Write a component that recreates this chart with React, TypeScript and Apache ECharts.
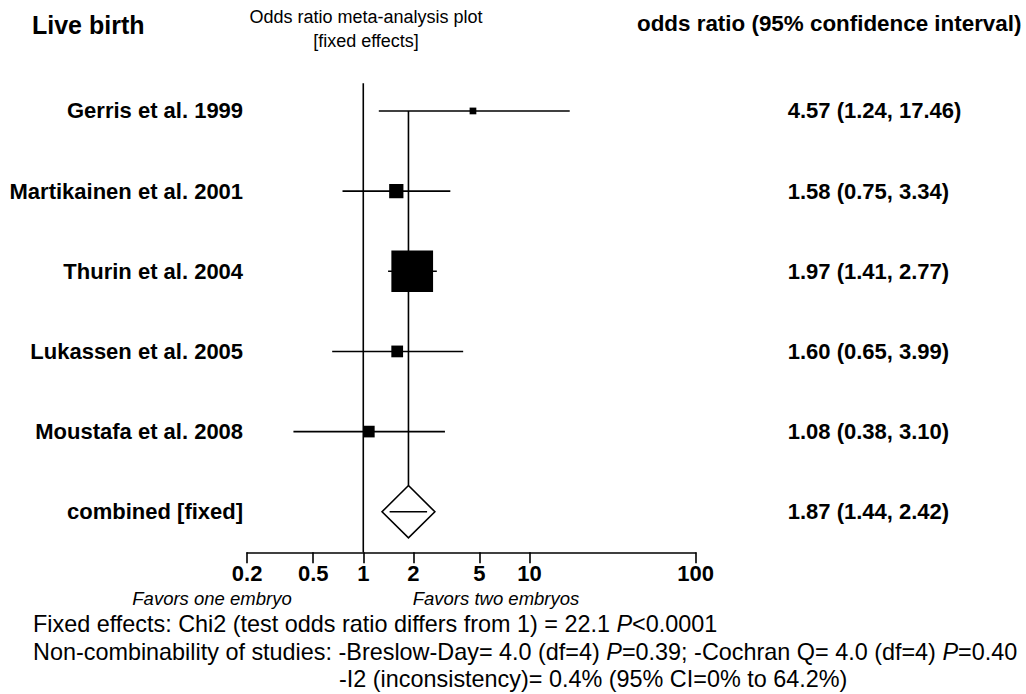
import React, { useEffect, useRef } from "react";
import * as echarts from "echarts";

const studies = [
  "Gerris et al. 1999",
  "Martikainen et al. 2001",
  "Thurin et al. 2004",
  "Lukassen et al. 2005",
  "Moustafa et al. 2008",
];
const oddsRatio = [4.57, 1.58, 1.97, 1.6, 1.08];
const ciLower = [1.24, 0.75, 1.41, 0.65, 0.38];
const ciUpper = [17.46, 3.34, 2.77, 3.99, 3.1];
const studyWeight = [2.0, 9.0, 76.9, 6.1, 6.0];

const combinedLabel = "combined [fixed]";
const combinedOR = 1.87;
const combinedLower = 1.44;
const combinedUpper = 2.42;

const tickValues = [0.2, 0.5, 1, 2, 5, 10, 100];
const axisMin = 0.2;
const axisMax = 100;

const titleLeft = "Live birth";
const titleCenter = ["Odds ratio meta-analysis plot", "[fixed effects]"];
const titleRight = "odds ratio (95% confidence interval)";
const favorsLeft = "Favors one embryo";
const favorsRight = "Favors two embryos";
const footnote1 = "Fixed effects: Chi2 (test odds ratio differs from 1) = 22.1 {i|P}<0.0001";
const footnote2 =
  "Non-combinability of studies: -Breslow-Day= 4.0 (df=4) {i|P}=0.39; -Cochran Q= 4.0 (df=4) {i|P}=0.40";
const footnote3 = "-I2 (inconsistency)= 0.4% (95% CI=0% to 64.2%)";

const FONT = "'Liberation Sans', Arial, sans-serif";
const lg = (v: number) => Math.log10(v);
const fmt = (v: number) => v.toFixed(2);

const rowLabels = [...studies, combinedLabel];
const rowValues = [
  ...oddsRatio.map((o, i) => `${fmt(o)} (${fmt(ciLower[i])}, ${fmt(ciUpper[i])})`),
  `${fmt(combinedOR)} (${fmt(combinedLower)}, ${fmt(combinedUpper)})`,
];
const rowIdx = rowLabels.map((_, i) => i);

const yMin = -0.345;
const yMax = 5.506;
const LW = 1.6;

export default function App() {
  const ref = useRef<HTMLDivElement>(null);
  useEffect(() => {
    if (!ref.current) return;
    const chart = echarts.init(ref.current, undefined, { renderer: "svg" });

    const yAxisBase = {
      type: "value",
      inverse: true,
      min: yMin,
      max: yMax,
      axisLine: { show: false },
      axisTick: { show: false },
      splitLine: { show: false },
    };

    const footStyle = (text: string) => ({
      text,
      font: `23.4px ${FONT}`,
      fill: "#000",
      verticalAlign: "middle",
      rich: { i: { fontStyle: "italic", fontSize: 23.4, fontFamily: FONT } },
    });

    const option: any = {
      animation: false,
      backgroundColor: "#ffffff",
      grid: { left: 247.1, top: 83.3, width: 448.6, height: 469 },
      xAxis: {
        type: "value",
        min: lg(axisMin),
        max: lg(axisMax),
        axisLine: { show: true, onZero: false, lineStyle: { color: "#000", width: LW } },
        axisTick: {
          show: true,
          inside: false,
          length: 11,
          customValues: tickValues.map(lg),
          lineStyle: { color: "#000", width: LW },
        },
        splitLine: { show: false },
        axisLabel: {
          customValues: tickValues.map(lg),
          formatter: (v: number) => {
            let best = tickValues[0];
            tickValues.forEach((t) => {
              if (Math.abs(lg(t) - v) < Math.abs(lg(best) - v)) best = t;
            });
            return String(best);
          },
          color: "#000",
          fontFamily: FONT,
          fontWeight: "bold",
          fontSize: 22,
          margin: 10,
        },
      },
      yAxis: [
        {
          ...yAxisBase,
          position: "left",
          axisLabel: {
            customValues: rowIdx,
            formatter: (v: number) => rowLabels[Math.round(v)] ?? "",
            color: "#000",
            fontFamily: FONT,
            fontWeight: "bold",
            fontSize: 22,
            margin: 4,
          },
        },
        {
          ...yAxisBase,
          position: "right",
          axisLabel: {
            customValues: rowIdx,
            formatter: (v: number) => rowValues[Math.round(v)] ?? "",
            color: "#000",
            fontFamily: FONT,
            fontWeight: "bold",
            fontSize: 22,
            margin: 92,
            align: "left",
          },
        },
      ],
      series: [
        {
          type: "line",
          data: [
            [lg(1), yMin],
            [lg(1), yMax],
          ],
          symbol: "none",
          lineStyle: { color: "#000", width: LW },
          silent: true,
        },
        {
          type: "custom",
          data: [[lg(combinedLower), lg(combinedUpper), lg(combinedOR), studies.length]],
          encode: { x: [0, 1, 2], y: 3 },
          renderItem: (params: any, api: any) => {
            const row = api.value(3);
            const c = api.coord([api.value(2), row]);
            const top = api.coord([api.value(2), 0]);
            const lo = api.coord([api.value(0), row]);
            const hi = api.coord([api.value(1), row]);
            const hw = 26.4;
            const hh = 26.2;
            return {
              type: "group",
              children: [
                {
                  type: "line",
                  shape: { x1: c[0], y1: top[1], x2: c[0], y2: c[1] - hh },
                  style: { stroke: "#000", lineWidth: LW },
                },
                {
                  type: "polygon",
                  shape: {
                    points: [
                      [c[0], c[1] - hh],
                      [c[0] + hw, c[1]],
                      [c[0], c[1] + hh],
                      [c[0] - hw, c[1]],
                    ],
                  },
                  style: { fill: "#fff", stroke: "#000", lineWidth: LW },
                },
                {
                  type: "line",
                  shape: { x1: lo[0], y1: c[1], x2: hi[0], y2: c[1] },
                  style: { stroke: "#000", lineWidth: LW },
                },
              ],
            };
          },
        },
        {
          type: "custom",
          data: studies.map((_, i) => [lg(ciLower[i]), lg(ciUpper[i]), lg(oddsRatio[i]), i, studyWeight[i]]),
          encode: { x: [0, 1, 2], y: 3 },
          renderItem: (params: any, api: any) => {
            const row = api.value(3);
            const lo = api.coord([api.value(0), row]);
            const hi = api.coord([api.value(1), row]);
            const c = api.coord([api.value(2), row]);
            const s = 4.755 * Math.sqrt(api.value(4));
            return {
              type: "group",
              children: [
                {
                  type: "line",
                  shape: { x1: lo[0], y1: lo[1], x2: hi[0], y2: hi[1] },
                  style: { stroke: "#000", lineWidth: LW },
                },
                {
                  type: "rect",
                  shape: { x: c[0] - s / 2, y: c[1] - s / 2, width: s, height: s },
                  style: { fill: "#000" },
                },
              ],
            };
          },
        },
      ],
      graphic: [
        {
          type: "text",
          left: 32,
          top: 12,
          style: { text: titleLeft, font: `bold 25px ${FONT}`, fill: "#000" },
        },
        {
          type: "text",
          x: 366,
          y: 17,
          style: {
            text: titleCenter[0],
            font: `18px ${FONT}`,
            fill: "#000",
            align: "center",
            verticalAlign: "middle",
          },
        },
        {
          type: "text",
          x: 366,
          y: 40.5,
          style: {
            text: titleCenter[1],
            font: `18px ${FONT}`,
            fill: "#000",
            align: "center",
            verticalAlign: "middle",
          },
        },
        {
          type: "text",
          x: 637,
          y: 23,
          style: {
            text: titleRight,
            font: `bold 22.4px ${FONT}`,
            fill: "#000",
            align: "left",
            verticalAlign: "middle",
          },
        },
        {
          type: "text",
          x: 212,
          y: 598,
          style: {
            text: favorsLeft,
            font: `italic 18.5px ${FONT}`,
            fill: "#000",
            align: "center",
            verticalAlign: "middle",
          },
        },
        {
          type: "text",
          x: 496,
          y: 598,
          style: {
            text: favorsRight,
            font: `italic 18.5px ${FONT}`,
            fill: "#000",
            align: "center",
            verticalAlign: "middle",
          },
        },
        { type: "text", x: 33, y: 624, style: footStyle(footnote1) },
        { type: "text", x: 33, y: 651.5, style: footStyle(footnote2) },
        { type: "text", x: 339, y: 679, style: footStyle(footnote3) },
      ],
    };

    chart.setOption(option);
    return () => chart.dispose();
  }, []);

  return (
    <div
      ref={ref}
      style={{ position: "absolute", left: 0, top: 0, width: 1026, height: 694, background: "#fff" }}
    />
  );
}
